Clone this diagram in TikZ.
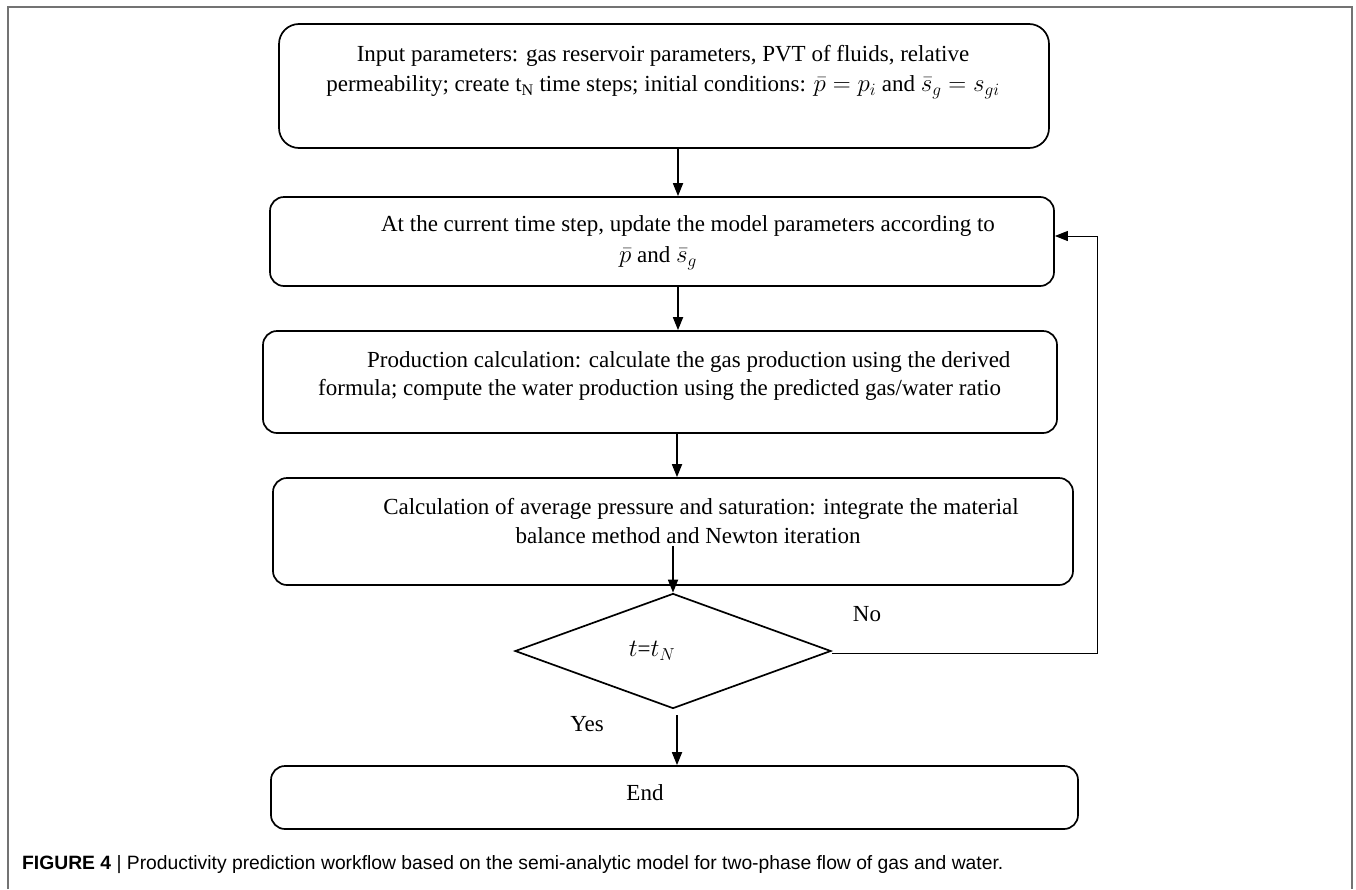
\documentclass[tikz,border=0pt]{standalone}
\usepackage{fontspec}
\setmainfont{Liberation Serif}
\newfontfamily\capfont{Liberation Sans}
\usetikzlibrary{shapes.geometric,arrows.meta}
\begin{document}
\begin{tikzpicture}[x=1pt,y=-1pt,
  stepbox/.style={draw,line width=1.7pt,rounded corners=14pt,inner sep=0pt},
  txt/.style={inner sep=0pt,font=\fontsize{23}{30}\selectfont},
  arr/.style={line width=1.7pt,-{Triangle[length=13pt,width=10pt]}},
  frame/.style={draw=black!55,line width=1.8pt}]
\useasboundingbox (0,0) rectangle (1356,889);
\draw[frame] (8,889) -- (8,7) -- (1352,7) -- (1352,889);
% boxes
\node[stepbox,rounded corners=20pt,minimum width=770pt,minimum height=124pt] (b1) at (664,86) {};
\node[stepbox,minimum width=784pt,minimum height=89pt] (b2) at (662,241.5) {};
\node[stepbox,minimum width=794pt,minimum height=102pt] (b3) at (660,382) {};
\node[stepbox,minimum width=800pt,minimum height=107pt] (b4) at (673,531.5) {};
\node[draw,line width=1.7pt,shape=diamond,minimum width=316pt,minimum height=115pt,inner sep=0pt] (dia) at (673,651) {};
\node[stepbox,minimum width=807pt,minimum height=63pt] (b5) at (674.5,797.5) {};
% texts
\node[txt,align=center] (t1) at (663,72) {Input parameters: gas reservoir parameters, PVT of fluids, relative\\permeability; create t$_{\mathrm{N}}$ time steps; initial conditions: $\bar{p}=p_i$ and $\bar{s}_g=s_{gi}$};
\node[txt] (t2a) at (688,226) {At the current time step, update the model parameters according to};
\node[txt] (t2b) at (658,258) {$\bar{p}$ and $\bar{s}_g$};
\node[txt,anchor=west] (t3a) at (367,362) {Production calculation: calculate the gas production using the derived};
\node[txt,anchor=west] (t3b) at (318,390) {formula; compute the water production using the predicted gas/water ratio};
\node[txt] (t4a) at (701,509) {Calculation of average pressure and saturation: integrate the material};
\node[txt] (t4b) at (688,536) {balance method and Newton iteration};
\node[txt] (t5) at (645,793) {End};
\node[txt] (td) at (652,651) {$t$=$t_N$};
\node[txt] (no) at (867,614) {No};
\node[txt] (yes) at (587,724) {Yes};
% connectors
\draw[arr] ([xshift=14pt]b1.south) -- ([xshift=16pt]b2.north);
\draw[arr] ([xshift=16pt]b2.south) -- ([xshift=18pt]b3.north);
\draw[arr] ([xshift=17pt]b3.south) -- ([xshift=4pt]b4.north);
\draw[arr] ([yshift=40pt]b4.south) -- (dia.north);
\draw[arr] ([xshift=4pt,yshift=-6pt]dia.south) -- ([xshift=2.5pt]b5.north);
\coordinate (cr) at (1097,653);
\draw[line width=1pt,-{Triangle[length=13pt,width=10pt]}] ([yshift=-2pt]dia.east) -- (cr) |- ([yshift=5.5pt]b2.east);
% caption
\node[anchor=west,inner sep=0pt,font=\capfont\fontsize{19.3}{21}\selectfont] (cap) at (22,865) {\textbf{FIGURE 4} | Productivity prediction workflow based on the semi-analytic model for two-phase flow of gas and water.};
\end{tikzpicture}
\end{document}
